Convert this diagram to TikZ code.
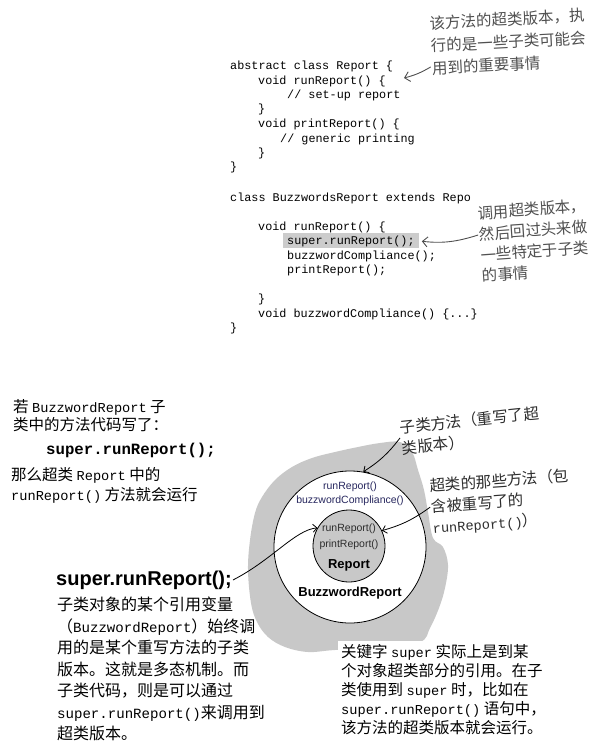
\documentclass[tikz,border=0pt]{standalone}
\usepackage{fontspec}
\setmainfont{Noto Sans CJK SC}
\setsansfont{Liberation Sans}
\setmonofont[Scale = 0.88]{Liberation Mono}
\newfontfamily\codefont{Liberation Mono}
\usetikzlibrary{arrows.meta}
\definecolor{blobgray}{RGB}{200,200,200}
\definecolor{hlgray}{RGB}{204,204,204}
\definecolor{inkgray}{RGB}{80,80,80}
\definecolor{darkink}{RGB}{45,45,45}
\definecolor{navy}{RGB}{40,40,95}
\tikzset {
    code line/.style = {anchor = base west, inner sep = 0pt,
        font = \codefont\fontsize{11.8}{14}\selectfont},
    remark/.style = {anchor = north west, align = left, inner sep = 1pt,
        text = inkgray, font = \fontsize{15.5}{21}\selectfont},
    prose/.style = {anchor = north west, align = left, inner sep = 1pt,
        font = \fontsize{15.5}{19}\selectfont},
    method/.style = {inner sep = 0pt, text = navy,
        font = \sffamily\fontsize{10.5}{12}\selectfont},
    class name/.style = {inner sep = 0pt,
        font = \sffamily\bfseries\fontsize{13}{15}\selectfont},
    %
    pencil/.style = {draw = inkgray, line width = 0.9pt,
        -{Straight Barb[length = 5pt, width = 10pt]}},
    ink/.style = {draw = black, line width = 0.8pt,
        -{Straight Barb[length = 4pt, width = 8pt]}}
}

\begin{document}
\begin{tikzpicture}[x = 1pt, y = -1pt]
    \useasboundingbox (0, 0) rectangle (599, 744);

    % the two classes
    \node (r1) [code line] at (230, 69) {abstract class Report \{};
    \node (r2) [code line] at (258, 84) {void runReport() \{};
    \node (r3) [code line] at (287, 98) {// set-up report};
    \node (r4) [code line] at (258, 112) {\}};
    \node (r5) [code line] at (258, 127) {void printReport() \{};
    \node (r6) [code line] at (280, 142) {// generic printing};
    \node (r7) [code line] at (258, 156) {\}};
    \node (r8) [code line] at (230, 170) {\}};

    \node (b1) [code line] at (230, 201) {class BuzzwordsReport extends Repo};
    \node (b2) [code line] at (258, 230) {void runReport() \{};
    \node (hl) [code line, fill = hlgray, inner xsep = 4pt, inner ysep = 2pt]
        at (283, 244) {super.runReport();};
    \node (b3) [code line] at (287, 259) {buzzwordCompliance();};
    \node (b4) [code line] at (287, 273) {printReport();};
    \node (b5) [code line] at (258, 302) {\}};
    \node (b6) [code line] at (258, 317) {void buzzwordCompliance() \{...\}};
    \node (b7) [code line] at (230, 331) {\}};

    \node (supernote) [remark, rotate = 3, font = \fontsize{15.5}{22.5}\selectfont]
        at (428, 15) {该方法的超类版本，执\\行的是一些子类可能会\\用到的重要事情};
    \node (callnote) [remark, rotate = 4] at (476, 205)
        {调用超类版本，\\然后回过头来做\\一些特定于子类\\的事情};
    \coordinate (runtip) at (404, 78);

    % the object
    \fill [blobgray] plot [smooth cycle, tension = 0.6] coordinates {
        (250, 540) (255, 513) (262, 497) (275, 480) (292, 467) (312, 458)
        (335, 452) (358, 447) (380, 443) (400, 442) (412, 452) (418, 470)
        (424, 490) (428, 512) (433, 538) (443, 547) (448, 565) (445, 588)
        (439, 608) (430, 628) (420, 642) (380, 648) (335, 650) (308, 652)
        (285, 647) (268, 637) (257, 622) (251, 603) (248, 570)};
    \node (outer) [circle, draw, line width = 0.8pt, fill = white,
        minimum size = 152pt] at (350, 547) {};
    \node (inner) [circle, draw, line width = 0.8pt, fill = blobgray,
        minimum size = 72pt] at (349, 546) {};
    \node (sub1) [method] at (350, 487) {runReport()};
    \node (sub2) [method] at (350, 501) {buzzwordCompliance()};
    \node (sup1) [method, text = darkink] at (349, 529) {runReport()};
    \node (sup2) [method, text = darkink] at (349, 545) {printReport()};
    \node (suplbl) [class name] at (349, 565) {Report};
    \node (sublbl) [class name] at (350, 593) {BuzzwordReport};

    \node (subnote) [remark, rotate = 6, text = darkink] at (398, 419)
        {子类方法（重写了超\\类版本）};
    \node (supmethods) [remark, rotate = 4, text = darkink] at (428, 477)
        {超类的那些方法（包\\含被重写了的\\\texttt{runReport()}）};

    % text on the left and below
    \node (ifsub) [prose, font = \fontsize{15.5}{18.5}\selectfont] at (12, 398)
        {若 \texttt{BuzzwordReport} 子\\类中的方法代码写了：};
    \node (call) [anchor = west, inner sep = 0pt,
        font = \codefont\bfseries\fontsize{15.7}{18}\selectfont]
        at (46, 450) {super.runReport();};
    \node (then) [prose, font = \fontsize{15.5}{20}\selectfont] at (10, 466)
        {那么超类 \texttt{Report} 中的\\\texttt{runReport()} 方法就会运行};

    \node (srlabel) [anchor = west, inner sep = 1pt, fill = white,
        font = \sffamily\bfseries\fontsize{20}{24}\selectfont]
        at (55, 580) {super.runReport();};
    \node (polynote) [prose, font = \fontsize{16}{21.5}\selectfont] at (56, 596)
        {子类对象的某个引用变量\\（\texttt{BuzzwordReport}）始终调\\用的是某个重写方法的子类\\版本。这就是多态机制。而\\子类代码，则是可以通过\\\texttt{super.runReport()}来调用到\\超类版本。};
    \node (kwnote) [prose, fill = white, inner sep = 3pt] at (338, 641)
        {关键字 \texttt{super} 实际上是到某\\个对象超类部分的引用。在子\\类使用到 \texttt{super} 时，比如在\\\texttt{super.runReport()} 语句中，\\该方法的超类版本就会运行。};

    % arrows
    \draw [pencil] (supernote.195) to [bend left = 8] (runtip);
    \draw [pencil, shorten > = 3pt] (callnote.170) to [bend left = 12] (hl.east);
    \draw [ink] (subnote.west) to [bend left = 10] (outer.80);
    \draw [ink] (supmethods.west) to [bend left = 10] (inner.25);
    \draw [ink] (srlabel.east) .. controls (272, 560) and (295, 530) .. (inner.150);
\end{tikzpicture}
\end{document}
